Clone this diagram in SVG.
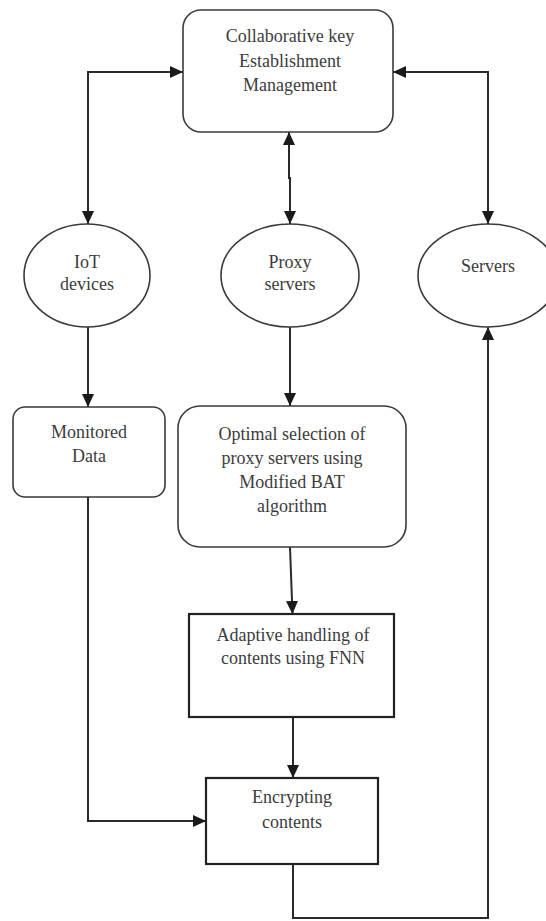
<svg xmlns="http://www.w3.org/2000/svg" width="546" height="921" viewBox="0 0 546 921">
  <defs>
    <marker id="arrow" markerUnits="userSpaceOnUse" markerWidth="13" markerHeight="13" viewBox="0 0 13 13" refX="13" refY="6.5" orient="auto-start-reverse">
      <path d="M0,0.5 L13,6.5 L0,12.5 Z" fill="#1a1a1a"/>
    </marker>
    <style>
      .node { fill: #ffffff; stroke: #3a3a3a; stroke-width: 1.6; }
      .box { fill: #ffffff; stroke: #222222; stroke-width: 2.2; }
      .label { font-family: "Liberation Serif", "Times New Roman", serif; font-size: 18px; fill: #3c3c3c; text-anchor: middle; }
      .edge { fill: none; stroke: #2a2a2a; stroke-width: 2; }
    </style>
  </defs>
  <rect width="546" height="921" fill="#ffffff"/>

  <!-- connectors -->
  <g id="connectors">
    <path class="edge" d="M88,224 L88,72 L183,72" marker-start="url(#arrow)" marker-end="url(#arrow)"/>
    <path class="edge" d="M290,224 L290,178 L289,178 L289,132" marker-start="url(#arrow)" marker-end="url(#arrow)"/>
    <path class="edge" d="M488,224 L488,72 L393,72" marker-start="url(#arrow)" marker-end="url(#arrow)"/>
    <path class="edge" d="M88,327 L88,407" marker-end="url(#arrow)"/>
    <path class="edge" d="M290,327 L290,406" marker-end="url(#arrow)"/>
    <path class="edge" d="M290,547 L292.5,614" marker-end="url(#arrow)"/>
    <path class="edge" d="M293,717 L293,778" marker-end="url(#arrow)"/>
    <path class="edge" d="M88,497 L88,821 L206,821" marker-end="url(#arrow)"/>
    <path class="edge" d="M293,864 L293,918 L488,918 L488,327" marker-end="url(#arrow)"/>
  </g>

  <g id="key-management">
    <rect class="node" x="183" y="10" width="210" height="122" rx="18" ry="18"/>
    <text class="label" x="290" y="42">Collaborative key</text>
    <text class="label" x="290" y="67">Establishment</text>
    <text class="label" x="290" y="91">Management</text>
  </g>

  <g id="iot-devices">
    <ellipse class="node" cx="87" cy="275.5" rx="63" ry="51.5"/>
    <text class="label" x="87" y="268">IoT</text>
    <text class="label" x="87" y="290">devices</text>
  </g>

  <g id="proxy-servers">
    <ellipse class="node" cx="290" cy="275.5" rx="69" ry="51.5"/>
    <text class="label" x="290" y="268">Proxy</text>
    <text class="label" x="290" y="290">servers</text>
  </g>

  <g id="servers">
    <ellipse class="node" cx="488" cy="275.5" rx="70" ry="51.5"/>
    <text class="label" x="488" y="272">Servers</text>
  </g>

  <g id="monitored-data">
    <rect class="node" x="13" y="407" width="152" height="90" rx="12" ry="12"/>
    <text class="label" x="89" y="438">Monitored</text>
    <text class="label" x="89" y="462">Data</text>
  </g>

  <g id="optimal-selection">
    <rect class="node" x="178" y="406" width="228" height="141" rx="22" ry="22"/>
    <text class="label" x="292" y="440">Optimal selection of</text>
    <text class="label" x="292" y="464">proxy servers using</text>
    <text class="label" x="292" y="488">Modified BAT</text>
    <text class="label" x="292" y="512">algorithm</text>
  </g>

  <g id="adaptive-handling">
    <rect class="box" x="189" y="614" width="205" height="103"/>
    <text class="label" x="293" y="641">Adaptive handling of</text>
    <text class="label" x="293" y="664">contents using FNN</text>
  </g>

  <g id="encrypting">
    <rect class="box" x="206" y="778" width="172" height="86"/>
    <text class="label" x="292" y="803">Encrypting</text>
    <text class="label" x="292" y="828">contents</text>
  </g>
</svg>
